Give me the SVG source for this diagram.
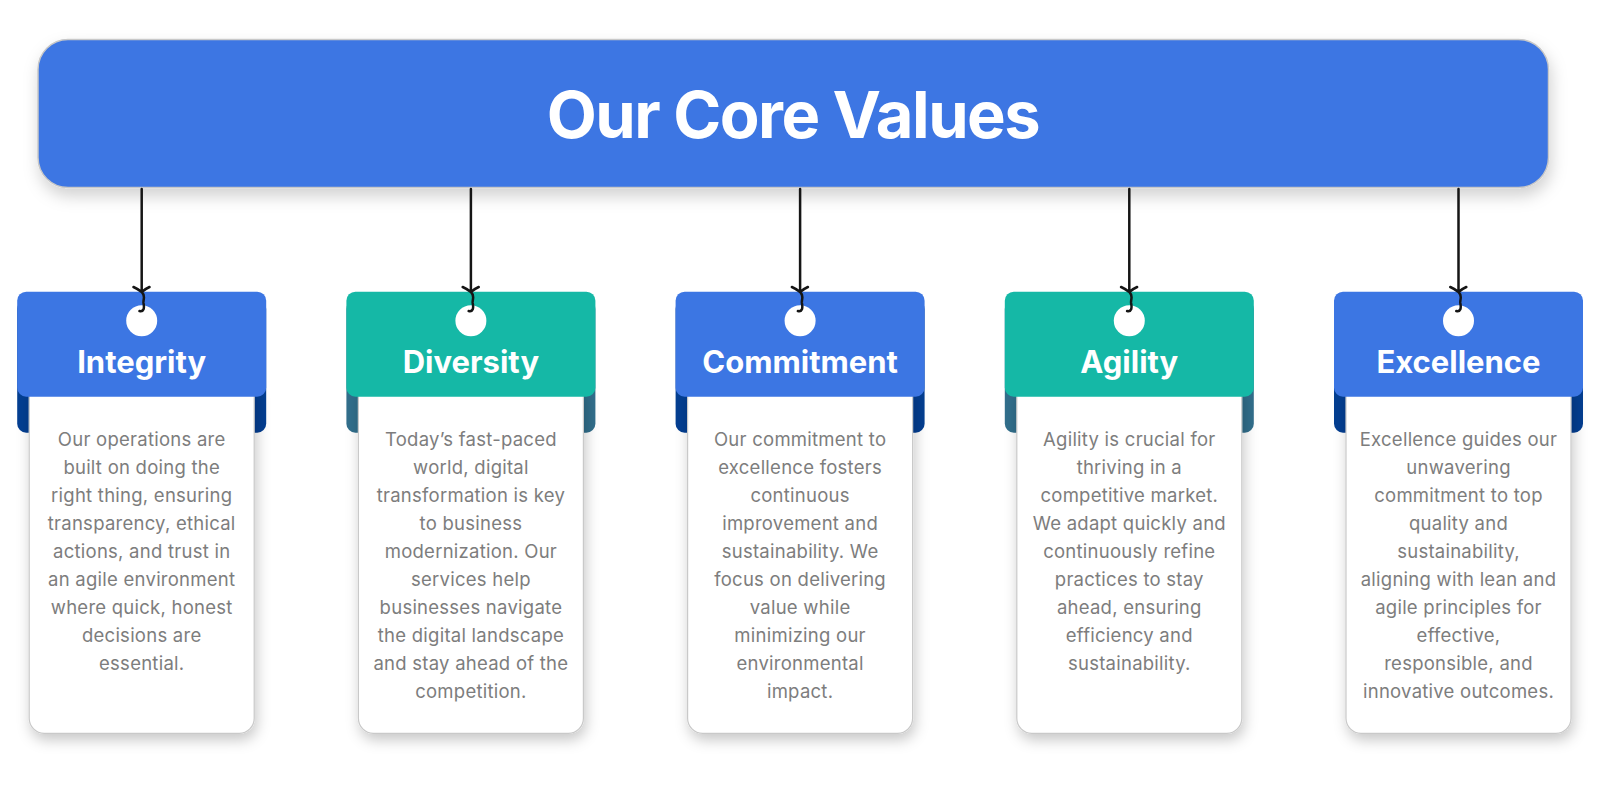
<svg xmlns="http://www.w3.org/2000/svg" width="1600" height="785" viewBox="0 0 1600 785">
<defs>
<filter id="sh" x="-20%" y="-20%" width="140%" height="160%">
<feDropShadow dx="2" dy="8" stdDeviation="8" flood-color="#000" flood-opacity="0.18"/>
</filter>
<filter id="sh2" x="-20%" y="-20%" width="140%" height="140%">
<feDropShadow dx="2" dy="6" stdDeviation="7" flood-color="#000" flood-opacity="0.22"/>
</filter>
</defs>
<style>
.hdr{fill:#3C76E3;stroke:#c8c8c8;stroke-width:1.5}
.title{font-family:Inter,"Liberation Sans",sans-serif;font-weight:700;font-size:65px;letter-spacing:-1.5px;fill:#fff}
.tabB{fill:#3C76E3}
.bandB{fill:#033E91}
.tabT{fill:#15B8A6}
.bandT{fill:#316E8B}
.body{fill:#fff;stroke:#c9c9c9;stroke-width:1.2}
.hole{fill:#fff}
.name{font-family:Inter,"Liberation Sans",sans-serif;font-weight:700;font-size:31px;fill:#fff;text-anchor:middle}
.txt{font-family:Inter,"Liberation Sans",sans-serif;font-size:18.5px;letter-spacing:0.25px;fill:#7d7d7d;text-anchor:middle}
.conn{fill:none;stroke:#151515;stroke-width:2.5;stroke-linecap:round;stroke-linejoin:round}
</style>
<rect width="1600" height="785" fill="#fff"/>
<g id="header">
<rect class="hdr" x="38" y="39.5" width="1510.5" height="148" rx="30" filter="url(#sh)"/>
<text class="title" x="793" y="138" text-anchor="middle">Our Core Values</text>
</g>

<g id="card-integrity">
<rect class="bandB" x="17.2" y="300" width="249" height="132.7" rx="9"/>
<rect class="body" x="29.2" y="380" width="225" height="353.3" rx="15" filter="url(#sh2)"/>
<rect class="tabB" x="17.2" y="291.7" width="249" height="105" rx="9"/>
<circle class="hole" cx="141.7" cy="320.8" r="15.5"/>
<text class="name" x="141.7" y="373.3">Integrity</text>
<text class="txt" x="141.7" y="446"><tspan x="141.7">Our operations are</tspan><tspan x="141.7" dy="28">built on doing the</tspan><tspan x="141.7" dy="28">right thing, ensuring</tspan><tspan x="141.7" dy="28">transparency, ethical</tspan><tspan x="141.7" dy="28">actions, and trust in</tspan><tspan x="141.7" dy="28">an agile environment</tspan><tspan x="141.7" dy="28">where quick, honest</tspan><tspan x="141.7" dy="28">decisions are</tspan><tspan x="141.7" dy="28">essential.</tspan></text>
</g>

<g id="card-diversity">
<rect class="bandT" x="346.4" y="300" width="249" height="132.7" rx="9"/>
<rect class="body" x="358.4" y="380" width="225" height="353.3" rx="15" filter="url(#sh2)"/>
<rect class="tabT" x="346.4" y="291.7" width="249" height="105" rx="9"/>
<circle class="hole" cx="470.9" cy="320.8" r="15.5"/>
<text class="name" x="470.9" y="373.3">Diversity</text>
<text class="txt" x="470.9" y="446"><tspan x="470.9">Today’s fast-paced</tspan><tspan x="470.9" dy="28">world, digital</tspan><tspan x="470.9" dy="28">transformation is key</tspan><tspan x="470.9" dy="28">to business</tspan><tspan x="470.9" dy="28">modernization. Our</tspan><tspan x="470.9" dy="28">services help</tspan><tspan x="470.9" dy="28">businesses navigate</tspan><tspan x="470.9" dy="28">the digital landscape</tspan><tspan x="470.9" dy="28">and stay ahead of the</tspan><tspan x="470.9" dy="28">competition.</tspan></text>
</g>

<g id="card-commitment">
<rect class="bandB" x="675.6" y="300" width="249" height="132.7" rx="9"/>
<rect class="body" x="687.6" y="380" width="225" height="353.3" rx="15" filter="url(#sh2)"/>
<rect class="tabB" x="675.6" y="291.7" width="249" height="105" rx="9"/>
<circle class="hole" cx="800.1" cy="320.8" r="15.5"/>
<text class="name" x="800.1" y="373.3">Commitment</text>
<text class="txt" x="800.1" y="446"><tspan x="800.1">Our commitment to</tspan><tspan x="800.1" dy="28">excellence fosters</tspan><tspan x="800.1" dy="28">continuous</tspan><tspan x="800.1" dy="28">improvement and</tspan><tspan x="800.1" dy="28">sustainability. We</tspan><tspan x="800.1" dy="28">focus on delivering</tspan><tspan x="800.1" dy="28">value while</tspan><tspan x="800.1" dy="28">minimizing our</tspan><tspan x="800.1" dy="28">environmental</tspan><tspan x="800.1" dy="28">impact.</tspan></text>
</g>

<g id="card-agility">
<rect class="bandT" x="1004.8" y="300" width="249" height="132.7" rx="9"/>
<rect class="body" x="1016.8" y="380" width="225" height="353.3" rx="15" filter="url(#sh2)"/>
<rect class="tabT" x="1004.8" y="291.7" width="249" height="105" rx="9"/>
<circle class="hole" cx="1129.3" cy="320.8" r="15.5"/>
<text class="name" x="1129.3" y="373.3">Agility</text>
<text class="txt" x="1129.3" y="446"><tspan x="1129.3">Agility is crucial for</tspan><tspan x="1129.3" dy="28">thriving in a</tspan><tspan x="1129.3" dy="28">competitive market.</tspan><tspan x="1129.3" dy="28">We adapt quickly and</tspan><tspan x="1129.3" dy="28">continuously refine</tspan><tspan x="1129.3" dy="28">practices to stay</tspan><tspan x="1129.3" dy="28">ahead, ensuring</tspan><tspan x="1129.3" dy="28">efficiency and</tspan><tspan x="1129.3" dy="28">sustainability.</tspan></text>
</g>

<g id="card-excellence">
<rect class="bandB" x="1334" y="300" width="249" height="132.7" rx="9"/>
<rect class="body" x="1346" y="380" width="225" height="353.3" rx="15" filter="url(#sh2)"/>
<rect class="tabB" x="1334" y="291.7" width="249" height="105" rx="9"/>
<circle class="hole" cx="1458.5" cy="320.8" r="15.5"/>
<text class="name" x="1458.5" y="373.3">Excellence</text>
<text class="txt" x="1458.5" y="446"><tspan x="1458.5">Excellence guides our</tspan><tspan x="1458.5" dy="28">unwavering</tspan><tspan x="1458.5" dy="28">commitment to top</tspan><tspan x="1458.5" dy="28">quality and</tspan><tspan x="1458.5" dy="28">sustainability,</tspan><tspan x="1458.5" dy="28">aligning with lean and</tspan><tspan x="1458.5" dy="28">agile principles for</tspan><tspan x="1458.5" dy="28">effective,</tspan><tspan x="1458.5" dy="28">responsible, and</tspan><tspan x="1458.5" dy="28">innovative outcomes.</tspan></text>
</g>

<g id="connectors">
<path class="conn" d="M141.7 189 V292 M133.5 287 Q138 289 141.7 292 Q145 289 149.5 287 M141.7 292 C146 296 143 299 143.5 303 C144.5 308 144 312 139.5 311"/>
<path class="conn" d="M470.9 189 V292 M462.7 287 Q467.2 289 470.9 292 Q474.2 289 478.7 287 M470.9 292 C475.2 296 472.2 299 472.7 303 C473.7 308 473.2 312 468.7 311"/>
<path class="conn" d="M800.1 189 V292 M791.9 287 Q796.4 289 800.1 292 Q803.4 289 807.9 287 M800.1 292 C804.4 296 801.4 299 801.9 303 C802.9 308 802.4 312 797.9 311"/>
<path class="conn" d="M1129.3 189 V292 M1121.1 287 Q1125.6 289 1129.3 292 Q1132.6 289 1137.1 287 M1129.3 292 C1133.6 296 1130.6 299 1131.1 303 C1132.1 308 1131.6 312 1127.1 311"/>
<path class="conn" d="M1458.5 189 V292 M1450.3 287 Q1454.8 289 1458.5 292 Q1461.8 289 1466.3 287 M1458.5 292 C1462.8 296 1459.8 299 1460.3 303 C1461.3 308 1460.8 312 1456.3 311"/>
</g>
</svg>
